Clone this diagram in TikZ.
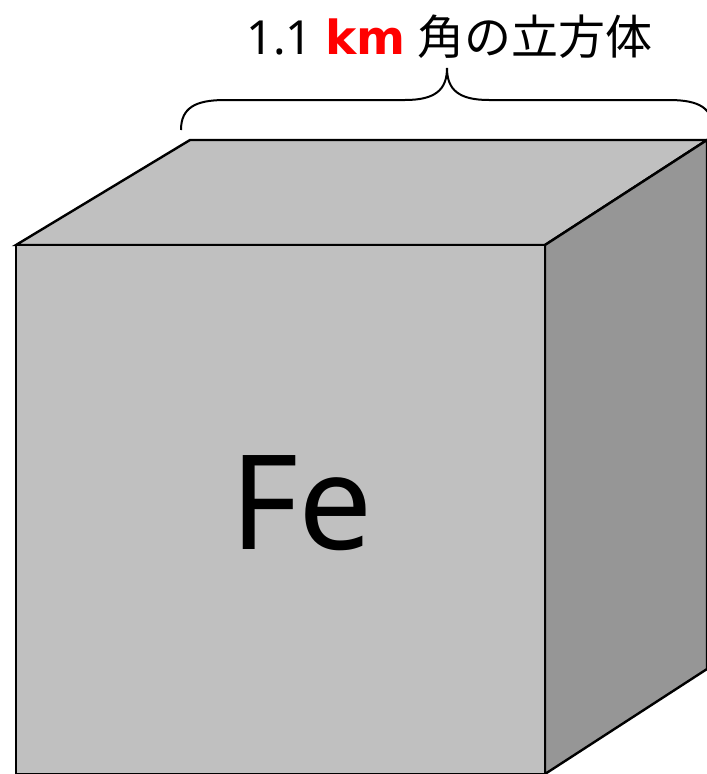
\documentclass[tikz,border=0pt]{standalone}
\usepackage{fontspec}
\setmainfont{Noto Sans}
\newfontfamily\jp{Noto Sans CJK JP}
\newfontfamily\kmfont{DejaVu Sans}
\definecolor{facelight}{HTML}{C0C0C0}
\definecolor{facedark}{HTML}{969696}
\definecolor{kmred}{HTML}{FF0000}
\begin{document}
\begin{tikzpicture}[x=1pt,y=-1pt,
  face/.style={draw=black,line width=2.4pt,line join=miter},
  bracestyle/.style={draw=black,line width=2pt}]
\useasboundingbox (0,0) rectangle (707,774);
\clip (0,0) rectangle (707,774);
% cube corners
\coordinate (ftl) at (16,245);
\coordinate (ftr) at (545,245);
\coordinate (fbl) at (16,774);
\coordinate (fbr) at (545,774);
\coordinate (btl) at (190,140);
\coordinate (btr) at (707,140);
\coordinate (bbr) at (707,669);
% faces
\filldraw[face,fill=facelight] (ftl) -- (btl) -- (btr) -- (ftr) -- cycle;
\filldraw[face,fill=facedark] (ftr) -- (btr) -- (bbr) -- (fbr) -- cycle;
\filldraw[face,fill=facelight] (ftl) -- (ftr) -- (fbr) -- (fbl) -- cycle;
% brace
\draw[bracestyle] (181,130) .. controls (181,108) and (195,100) .. (225,100) -- (405,100)
  .. controls (435,100) and (447,90) .. (447,68)
  .. controls (447,90) and (459,100) .. (489,100) -- (669,100)
  .. controls (699,100) and (713,108) .. (713,130);
% labels
\node[anchor=base,inner sep=0pt] (title) at (449.5,54)
  {\fontsize{47}{54}\selectfont 1.1 {\kmfont\bfseries\textcolor{kmred}{km}} {\jp 角の立方体}};
\node[anchor=base,inner sep=0pt] (fe) at (301.5,549)
  {\fontsize{131.6}{140}\selectfont Fe};
\end{tikzpicture}
\end{document}
